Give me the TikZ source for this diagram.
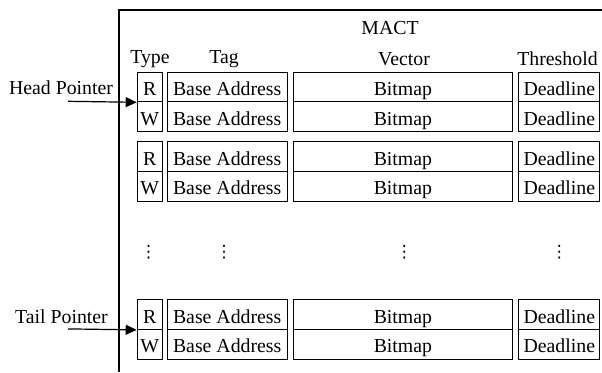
\documentclass[tikz,border=0pt]{standalone}
\usepackage{fontspec}
\setmainfont{Liberation Serif}
\newfontfamily\dvsans{DejaVu Sans}
\usetikzlibrary{arrows.meta}
\begin{document}
\begin{tikzpicture}[x=1pt,y=-1pt,
  every node/.style={font=\fontsize{19.8}{21}\selectfont},
  cell/.style={draw,line width=1pt,rectangle,inner sep=0pt,minimum height=29.6pt,
    text height=17pt,text depth=0pt,anchor=north west},
  lbl/.style={inner sep=0pt},
  dotsl/.style={inner sep=0pt,font=\dvsans\fontsize{17}{18}\selectfont},
  ptr/.style={line width=1.2pt,-{Triangle[length=11pt,width=10pt]}}]
\useasboundingbox (0,0) rectangle (602,372);
% frame
\coordinate (ftl) at (119,10);
\coordinate (ftr) at (602,10);
\coordinate (fbl) at (119,372);
\draw[line width=1.3pt] (ftr) -- (ftl) -- (fbl);
% headers
\node[lbl] (mact) at (390,28) {MACT};
\node[lbl] (htype) at (150,59) {Type};
\node[lbl] (htag) at (224,59) {Tag};
\node[lbl] (hvec) at (404,59) {Vector};
\node[lbl] (hthr) at (557.5,59) {Threshold};
% cells
\foreach \g/\top in {1/71.7, 2/141.3, 3/299.3}{
  \foreach \r/\t/\dy in {R/R/0, W/W/29.6}{
    \node[cell,minimum width=25pt] (g\g\r T) at (136.7,\top+\dy) {\t};
    \node[cell,minimum width=120pt] (g\g\r G) at (166.7,\top+\dy) {Base Address};
    \node[cell,minimum width=219.8pt] (g\g\r V) at (292.5,\top+\dy) {Bitmap};
    \node[cell,minimum width=81pt] (g\g\r D) at (518.3,\top+\dy) {Deadline};
  }
}
% dots
\node[dotsl] (d1) at (148.5,252.7) {⋮};
\node[dotsl] (d2) at (224,252.7) {⋮};
\node[dotsl] (d3) at (404.3,252.7) {⋮};
\node[dotsl] (d4) at (559.3,252.7) {⋮};
% pointers
\node[lbl] (head) at (61,88) {Head Pointer};
\node[lbl] (tail) at (61.5,317) {Tail Pointer};
\coordinate (hs) at (68,101.3);
\coordinate (ts) at (68,328.9);
\draw[ptr] (hs) -- (g1RT.south west);
\draw[ptr] (ts) -- (g3RT.south west);
\end{tikzpicture}
\end{document}
